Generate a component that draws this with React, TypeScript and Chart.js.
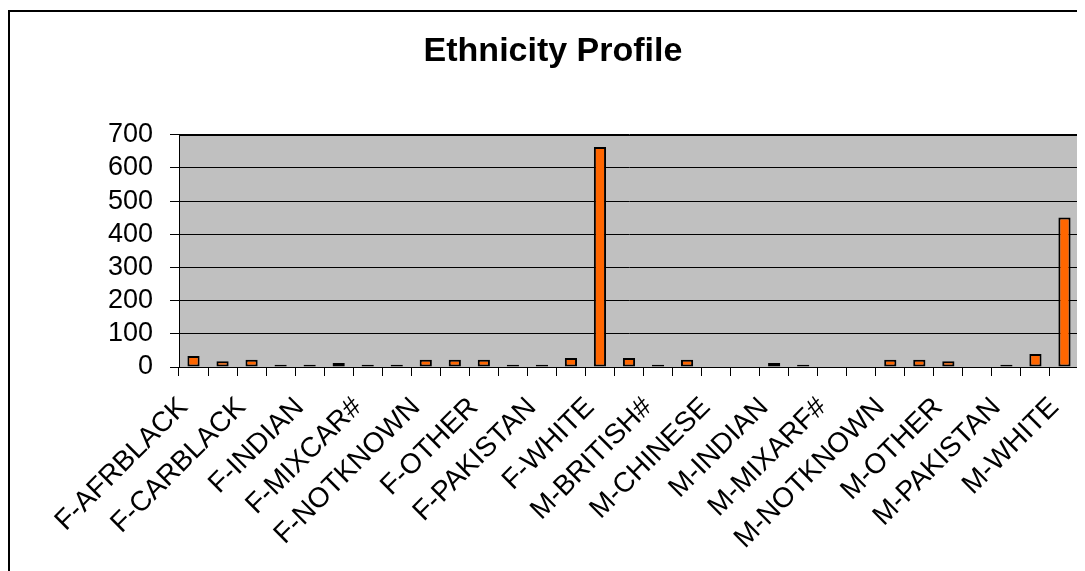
import React, { useEffect, useRef } from "react";
import { Chart, registerables } from "chart.js";

Chart.register(...registerables);

const chartTitle = "Ethnicity Profile";

const categories = [
  "F-AFRBLACK", "F-BRITISH#", "F-CARBLACK", "F-CHINESE", "F-INDIAN", "F-MIXARF#",
  "F-MIXCAR#", "F-MIXOTH#", "F-NOTKNOWN", "F-OTHASIAN", "F-OTHER", "F-OTHBLACK",
  "F-PAKISTAN", "F-REFUSED", "F-WHITE",
  "M-AFRBLACK", "M-BRITISH#", "M-CARBLACK", "M-CHINESE", "M-GYPSY", "M-INDIAN",
  "M-IRISH", "M-MIXARF#", "M-MIXCAR#", "M-NOTKNOWN", "M-OTHASIAN", "M-OTHER",
  "M-OTHBLACK", "M-PAKISTAN", "M-REFUSED", "M-WHITE",
];

const counts = [
  33, 17, 22, 7, 7, 12,
  7, 7, 22, 22, 22, 7,
  7, 27, 663,
  27, 7, 22, 0, 0, 12,
  7, 0, 0, 22, 22, 17,
  0, 7, 39, 451,
];

const yMin = 0;
const yMax = 700;
const yStep = 100;

const plotFrame = {
  id: "plotFrame",
  beforeDraw(chart: any) {
    const { ctx, chartArea } = chart;
    if (!chartArea) return;
    ctx.save();
    ctx.fillStyle = "#C0C0C0";
    ctx.fillRect(chartArea.left, chartArea.top, chartArea.right - chartArea.left, chartArea.bottom - chartArea.top);
    ctx.restore();
  },
  afterDraw(chart: any) {
    const { ctx, chartArea } = chart;
    if (!chartArea) return;
    ctx.save();
    ctx.strokeStyle = "#000";
    ctx.lineWidth = 1;
    ctx.strokeRect(Math.round(chartArea.left) + 0.5, Math.round(chartArea.top) + 0.5,
      Math.round(chartArea.right - chartArea.left), Math.round(chartArea.bottom - chartArea.top));
    ctx.restore();
  },
};

export default function App() {
  const canvasRef = useRef<HTMLCanvasElement | null>(null);

  useEffect(() => {
    document.body.style.overflow = "hidden";
    const canvas = canvasRef.current;
    if (!canvas) return;
    const chart = new Chart(canvas, {
      type: "bar",
      data: {
        labels: categories,
        datasets: [
          {
            label: "Count",
            data: counts,
            backgroundColor: "#FF6600",
            borderColor: "#000000",
            borderWidth: 2,
            borderSkipped: false,
            categoryPercentage: 1,
            barPercentage: 0.42,
          },
        ],
      },
      options: {
        responsive: false,
        animation: false,
        events: [],
        layout: { padding: { left: 17, right: 6, top: 0, bottom: 0 } },
        font: { family: "'Liberation Sans', Arial, sans-serif" },
        color: "#000",
        plugins: {
          legend: { display: false },
          tooltip: { enabled: false },
          title: {
            display: true,
            text: chartTitle,
            color: "#000",
            font: { family: "'Liberation Sans', Arial, sans-serif", size: 34, weight: "bold" },
            padding: { top: 19, bottom: 63 },
          },
        },
        scales: {
          x: {
            afterFit(scale: any) {
              scale.height = 204;
              scale.paddingLeft = 0;
              scale.paddingRight = 0;
            },
            grid: {
              drawOnChartArea: false,
              drawTicks: true,
              tickLength: 9,
              color: "#000",
              offset: true,
            },
            border: { color: "#000", width: 1 },
            ticks: {
              autoSkip: false,
              maxRotation: 45,
              minRotation: 45,
              padding: 15,
              labelOffset: -10,
              color: "#000",
              font: { family: "'Liberation Sans', Arial, sans-serif", size: 28 },
              callback: (_v: any, index: number) => (index % 2 === 0 ? categories[index] : ""),
            },
          },
          y: {
            min: yMin,
            max: yMax,
            afterFit(scale: any) {
              scale.width = 152;
              scale.paddingTop = 0;
              scale.paddingBottom = 0;
            },
            grid: {
              color: "#000",
              lineWidth: 1,
              tickLength: 9,
            },
            border: { color: "#000", width: 1 },
            ticks: {
              stepSize: yStep,
              autoSkip: false,
              padding: 17,
              color: "#000",
              font: { family: "'Liberation Sans', Arial, sans-serif", size: 27 },
            },
          },
        },
      },
      plugins: [plotFrame],
    } as any);
    return () => chart.destroy();
  }, []);

  return (
    <div
      style={{
        marginTop: 2,
        width: 1077,
        height: 561,
        borderTop: "2px solid #000",
        borderLeft: "2px solid #000",
        boxSizing: "border-box",
        background: "#fff",
      }}
    >
      <canvas ref={canvasRef} width={1075} height={559} style={{ display: "block" }} />
    </div>
  );
}
